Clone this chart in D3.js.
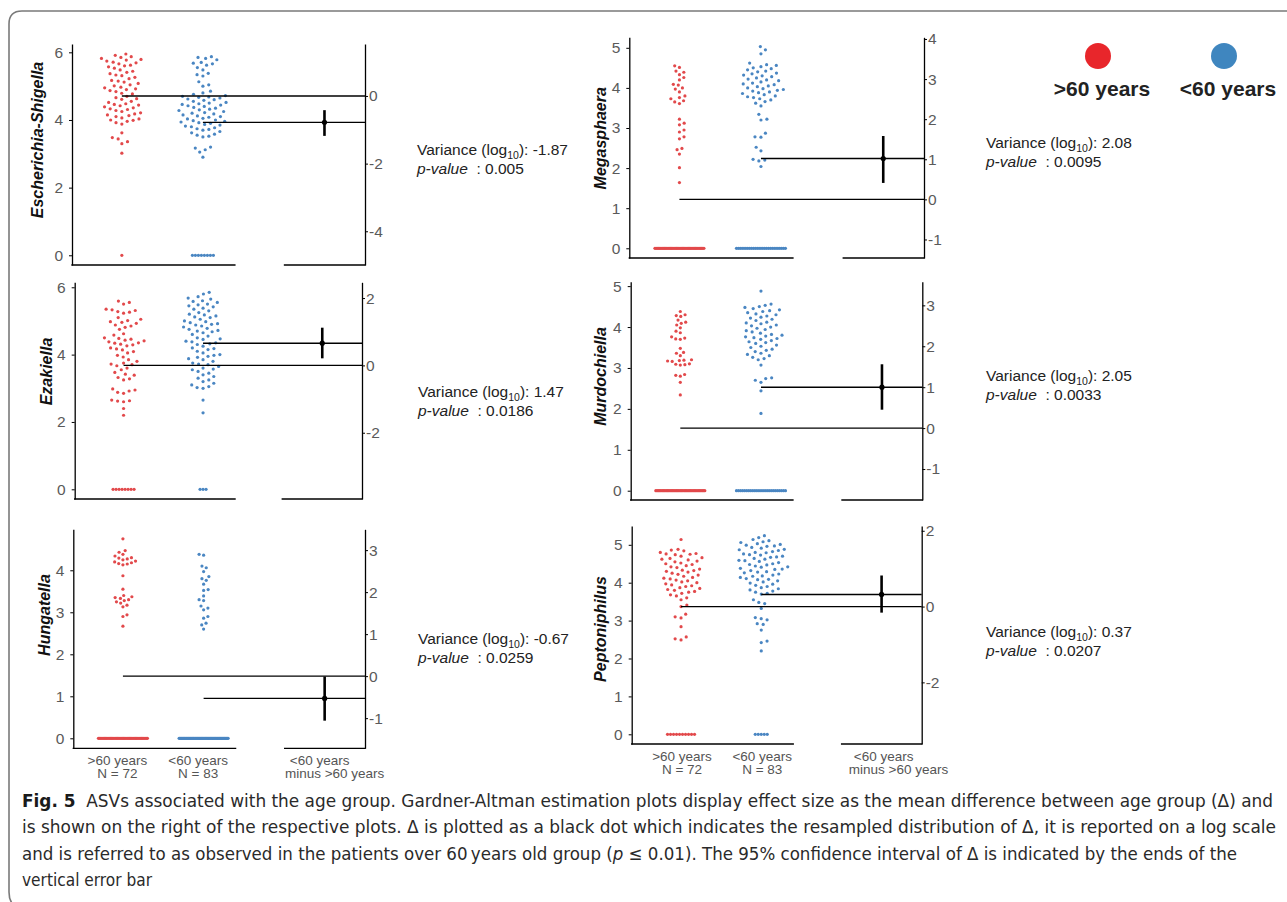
<!DOCTYPE html>
<html><head><meta charset="utf-8">
<script src="https://cdn.jsdelivr.net/npm/d3@7"></script>
<style>body{margin:0;background:#fff} svg{display:block}</style>
</head><body><svg id="chart" width="1287" height="902"></svg>
<script>
// ---------------- DATA ----------------
const groups = [">60 years", "<60 years"];
const groupN = [72, 83];
const contrastLabel = ["<60 years", "minus >60 years"];
const taxa = ["Escherichia-Shigella", "Ezakiella", "Hungatella", "Megasphaera", "Murdochiella", "Peptoniphilus"];

// non-zero log10 abundances read from the swarms (zeros fill the rest of N)
const olderNonZero = [
  [5.95,5.91,5.87,5.85,5.82,5.79,5.77,5.71,5.69,5.66,5.62,5.57,5.53,5.44,5.41,5.37,5.33,5.31,5.26,5.22,5.17,5.15,5.08,5.04,5.01,4.97,4.92,4.90,4.84,4.79,4.77,4.70,4.66,4.61,4.55,4.52,4.46,4.44,4.39,4.36,4.33,4.28,4.25,4.21,4.18,4.13,4.10,4.06,4.03,3.99,3.96,3.92,3.88,4.63,4.48,4.31,5.12,5.48,5.60,5.74,4.87,4.95,4.42,4.15,4.00,3.62,3.48,3.44,3.36,3.30,3.02],
  [5.59,5.55,5.50,5.35,5.33,5.31,5.28,5.26,5.23,5.10,5.05,5.01,4.98,4.96,4.93,4.88,4.85,4.81,4.75,4.62,4.58,4.50,4.48,4.46,4.43,4.41,4.38,4.35,4.34,4.31,4.29,4.26,4.20,4.17,4.14,4.09,4.05,3.98,3.93,3.85,3.80,3.75,3.72,3.70,3.67,3.60,3.55,3.47,3.42,3.39,3.32,3.28,3.25,2.98,2.95,2.92,2.88,2.85,2.65,2.63,2.62,2.60,2.40,2.20],
  [4.75,4.47,4.43,4.38,4.34,4.30,4.29,4.27,4.25,4.22,4.20,4.18,4.16,4.15,4.13,3.87,3.55,3.40,3.37,3.35,3.33,3.30,3.28,3.25,3.22,3.17,3.13,2.94,2.90,2.67],
  [4.55,4.51,4.42,4.39,4.33,4.26,4.20,4.09,4.07,4.00,3.97,3.90,3.80,3.76,3.73,3.68,3.65,3.61,3.22,3.12,3.08,2.95,2.90,2.78,2.73,2.49,2.46,2.35,2.01,1.64],
  [4.38,4.30,4.28,4.26,4.17,4.12,4.09,4.05,3.98,3.90,3.86,3.76,3.73,3.71,3.70,3.48,3.38,3.36,3.30,3.20,3.19,3.18,3.17,3.16,3.10,3.09,3.08,3.07,2.84,2.82,2.80,2.65,2.34],
  [5.14,4.88,4.86,4.84,4.80,4.77,4.76,4.75,4.74,4.70,4.66,4.64,4.62,4.60,4.57,4.55,4.52,4.50,4.48,4.45,4.42,4.40,4.36,4.33,4.32,4.30,4.28,4.25,4.22,4.20,4.17,4.14,4.12,4.10,4.07,4.05,4.02,4.00,3.97,3.94,3.92,3.90,3.87,3.85,3.82,3.80,3.77,3.75,3.72,3.68,3.65,3.60,3.55,3.41,3.37,3.17,3.10,3.07,2.84,2.57,2.52,2.49]
];
const youngerNonZero = [
  [5.87,5.85,5.82,5.78,5.70,5.68,5.66,5.62,5.55,5.48,5.38,5.34,5.30,5.13,5.04,5.00,4.85,4.80,4.76,4.72,4.70,4.68,4.67,4.65,4.62,4.60,4.58,4.55,4.52,4.50,4.48,4.46,4.44,4.42,4.40,4.37,4.35,4.32,4.30,4.28,4.25,4.22,4.20,4.18,4.15,4.12,4.10,4.08,4.05,4.03,4.00,3.98,3.96,3.94,3.92,3.90,3.87,3.85,3.82,3.80,3.77,3.74,3.72,3.70,3.66,3.62,3.58,3.55,3.52,3.50,3.20,3.17,3.12,3.05,2.90],
  [5.85,5.80,5.72,5.68,5.65,5.60,5.58,5.55,5.50,5.48,5.45,5.42,5.38,5.35,5.30,5.25,5.20,5.18,5.15,5.12,5.10,5.05,5.00,4.98,4.95,4.92,4.90,4.88,4.85,4.82,4.78,4.75,4.72,4.70,4.68,4.65,4.60,4.55,4.50,4.47,4.45,4.40,4.38,4.35,4.32,4.30,4.25,4.20,4.18,4.15,4.10,4.05,4.00,3.98,3.95,3.92,3.88,3.85,3.80,3.75,3.72,3.70,3.65,3.60,3.57,3.55,3.50,3.45,3.40,3.35,3.30,3.25,3.20,3.15,3.10,3.05,3.02,3.00,2.65,2.27],
  [4.38,4.36,4.10,4.06,3.97,3.85,3.80,3.76,3.67,3.54,3.52,3.39,3.30,3.28,3.15,3.10,3.06,2.90,2.86,2.74,2.70,2.60],
  [5.03,4.95,4.85,4.62,4.58,4.56,4.53,4.50,4.48,4.45,4.42,4.40,4.37,4.35,4.32,4.30,4.28,4.25,4.22,4.20,4.18,4.15,4.12,4.10,4.08,4.05,4.03,4.00,3.98,3.96,3.94,3.92,3.90,3.88,3.86,3.83,3.80,3.78,3.76,3.73,3.70,3.66,3.62,3.55,3.34,3.22,3.20,2.87,2.78,2.77,2.52,2.43,2.22,2.20,2.18,2.04],
  [4.88,4.56,4.53,4.50,4.48,4.45,4.42,4.40,4.38,4.35,4.32,4.30,4.27,4.24,4.22,4.19,4.16,4.12,4.10,4.08,4.05,4.03,4.00,3.97,3.94,3.91,3.88,3.85,3.82,3.80,3.78,3.76,3.74,3.72,3.70,3.67,3.64,3.62,3.60,3.56,3.53,3.50,3.46,3.43,3.40,3.36,3.33,3.30,3.26,3.23,3.20,3.07,2.76,2.74,2.70,2.65,2.44,1.89],
  [5.24,5.19,5.14,5.11,5.08,5.06,5.03,5.01,4.99,4.97,4.96,4.93,4.91,4.88,4.87,4.85,4.82,4.80,4.79,4.76,4.74,4.73,4.70,4.68,4.67,4.64,4.62,4.59,4.58,4.56,4.53,4.50,4.48,4.47,4.44,4.42,4.41,4.38,4.36,4.35,4.32,4.29,4.28,4.26,4.23,4.20,4.18,4.17,4.14,4.11,4.09,4.08,4.05,4.02,3.99,3.96,3.93,3.90,3.87,3.84,3.81,3.78,3.75,3.72,3.70,3.55,3.48,3.45,3.32,3.08,3.05,3.02,2.92,2.90,2.75,2.46,2.42,2.20]
];
const olderMeans   = [4.71, 3.68, 1.48, 1.22, 1.53, 3.37];
const youngerMeans = [3.93, 4.34, 0.95, 2.24, 2.53, 3.69];
const ciLow  = [-1.18, 0.21, -1.06, 0.41, 0.45, -0.16];
const ciHigh = [-0.42, 1.12, -0.01, 1.58, 1.56, 0.82];
const varianceLabels = ["-1.87", "1.47", "-0.67", "2.08", "2.05", "0.37"];
const pValueLabels = ["0.005", "0.0186", "0.0259", "0.0095", "0.0033", "0.0207"];
const leftTicks  = [[0,2,4,6],[0,2,4,6],[0,1,2,3,4],[0,1,2,3,4,5],[0,1,2,3,4,5],[0,1,2,3,4,5]];
const rightTicks = [[-4,-2,0],[-2,0,2],[-1,0,1,2,3],[-1,0,1,2,3,4],[-1,0,1,2,3],[-2,0,2]];
const yDomains = [[-0.287,6.246],[-0.288,6.148],[-0.238,4.976],[-0.242,5.262],[-0.227,5.108],[-0.256,5.496]];
const legendLabels = [">60 years", "<60 years"];
const captionLines = [
  "ASVs associated with the age group. Gardner-Altman estimation plots display effect size as the mean difference between age group (\u0394) and",
  "is shown on the right of the respective plots. \u0394 is plotted as a black dot which indicates the resampled distribution of \u0394, it is reported on a log scale",
  ["and is referred to as observed in the patients over 60\u2009years old group (", "p", " \u2264 0.01). The 95% confidence interval of \u0394 is indicated by the ends of the"],
  "vertical error bar"
];

// ---------------- LAYOUT ----------------
const layout = [
  {L:72,   R:365,   top:44,    bottom:265,   labX:43,  labY:140,   txtX:417, txtY:155, dot:[6,6]},
  {L:74.7, R:362,   top:282.3, bottom:499,   labX:52,  labY:371.5, txtX:418, txtY:397, dot:[6,6]},
  {L:73.3, R:365,   top:529.3, bottom:748.3, labX:50,  labY:615,   txtX:418, txtY:644, dot:[4.4,4.6], xlab:true, gShift:-5.5, cShift:-5},
  {L:629.3,R:924,   top:37.3,  bottom:258,   labX:606, labY:138.3, txtX:986, txtY:148, dot:[5,6]},
  {L:630.7,R:922.3, top:281.7, bottom:500,   labX:606, labY:376.5, txtX:986, txtY:381, dot:[4.6,6]},
  {L:631.7,R:921.7, top:526,   bottom:744,   labX:606, labY:629,   txtX:986, txtY:637, dot:[6,6], xlab:true, gShift:1, cShift:2}
];
const colors = ["#e2494b", "#4a86c2"];
const legendColors = ["#e8262b", "#3f86bf"];
const FONT = "'Liberation Sans', Arial, Helvetica, sans-serif";

const svg = d3.select("#chart");

// frame
svg.append("path")
  .attr("d", "M1287,11 H22 Q9,11 9,24 V892 Q9,902 15,906")
  .attr("fill", "none").attr("stroke", "#7a7a7a").attr("stroke-width", 1.6);

function swarm(vals, y, d) {
  const sorted = vals.slice().sort((a, b) => a - b);
  const placed = [];
  sorted.forEach((v, i) => {
    const py = y(v);
    const near = placed.filter(p => Math.abs(p.y - py) < d);
    const cands = [0];
    near.forEach(p => {
      const dx = Math.sqrt(d * d - (p.y - py) ** 2);
      cands.push(p.x + dx, p.x - dx);
    });
    cands.sort((a, b) => (Math.abs(a) - Math.abs(b)) || ((i % 2) ? a - b : b - a));
    const cx = cands.find(c => near.every(p => (p.x - c) ** 2 + (p.y - py) ** 2 >= d * d - 0.01));
    placed.push({x: cx, y: py, v});
  });
  return placed;
}
function zeroRow(n, y) {
  const s = n > 1 ? Math.min(3, 49 / (n - 1)) : 0;
  return d3.range(n).map(i => ({x: (i - (n - 1) / 2) * s, y: y(0), v: 0}));
}

taxa.forEach((taxon, k) => {
  const lay = layout[k];
  const g = svg.append("g");
  const x = d3.scaleLinear().domain([-0.615, 3.0]).range([lay.L, lay.R]);
  const y = d3.scaleLinear().domain(yDomains[k]).range([lay.bottom, lay.top]);
  const yR = d3.scaleLinear().domain([yDomains[k][0] - olderMeans[k], yDomains[k][1] - olderMeans[k]]).range([lay.bottom, lay.top]);

  // axes
  const la = g.append("g").attr("transform", `translate(${lay.L},0)`)
    .call(d3.axisLeft(y).tickValues(leftTicks[k]).tickSize(3).tickPadding(6).tickSizeOuter(0).tickFormat(d => String(d)));
  const ra = g.append("g").attr("transform", `translate(${lay.R},0)`)
    .call(d3.axisRight(yR).tickValues(rightTicks[k]).tickSize(3).tickPadding(1).tickSizeOuter(0).tickFormat(d => String(d)));
  [la, ra].forEach(a => {
    a.attr("font-family", FONT).attr("font-size", 15.5);
    a.select(".domain").attr("stroke", "#000").attr("stroke-width", 1.3);
    a.selectAll(".tick line").attr("stroke", "#000").attr("stroke-width", 1);
    a.selectAll(".tick text").attr("fill", "#5a5a5a");
  });
  // bottom axis segments
  [[lay.L, x(1) + 32], [x(2.5) - 40, lay.R]].forEach(s => {
    g.append("line").attr("x1", s[0] - 0.65).attr("x2", s[1] + 0.65)
      .attr("y1", lay.bottom).attr("y2", lay.bottom)
      .attr("stroke", "#000").attr("stroke-width", 1.3);
  });

  // swarms
  [olderNonZero[k], youngerNonZero[k]].forEach((nz, gi) => {
    const nZero = groupN[gi] - nz.length;
    const pts = swarm(nz, y, lay.dot[gi]).concat(zeroRow(nZero, y));
    g.append("g").selectAll("circle").data(pts).join("circle")
      .attr("cx", d => x(gi) + d.x).attr("cy", d => d.y).attr("r", 1.6)
      .attr("fill", colors[gi]);
  });

  // mean lines
  [olderMeans[k], youngerMeans[k]].forEach((m, gi) => {
    g.append("line").attr("x1", x(gi)).attr("x2", lay.R)
      .attr("y1", y(m)).attr("y2", y(m)).attr("stroke", "#000").attr("stroke-width", 1.4);
  });
  // delta + CI
  const delta = youngerMeans[k] - olderMeans[k];
  g.append("line").attr("x1", x(2.5)).attr("x2", x(2.5))
    .attr("y1", yR(ciLow[k])).attr("y2", yR(ciHigh[k]))
    .attr("stroke", "#000").attr("stroke-width", 2.6);
  g.append("circle").attr("cx", x(2.5)).attr("cy", yR(delta)).attr("r", 2.6).attr("fill", "#000");

  // y label
  g.append("text").attr("transform", `translate(${lay.labX},${lay.labY}) rotate(-90)`)
    .attr("text-anchor", "middle").attr("font-family", FONT).attr("font-size", 16)
    .attr("font-weight", "bold").attr("font-style", "italic").attr("fill", "#111").text(taxon);

  // stats text
  const t1 = g.append("text").attr("x", lay.txtX).attr("y", lay.txtY)
    .attr("font-family", FONT).attr("font-size", 15.5).attr("fill", "#222");
  t1.append("tspan").text("Variance (log");
  t1.append("tspan").attr("font-size", 10.5).attr("dy", 4).text("10");
  t1.append("tspan").attr("dy", -4).text("): " + varianceLabels[k]);
  const t2 = g.append("text").attr("x", lay.txtX).attr("y", lay.txtY + 19)
    .attr("font-family", FONT).attr("font-size", 15.5).attr("fill", "#222");
  t2.append("tspan").attr("font-style", "italic").text("p-value");
  t2.append("tspan").text("\u00a0\u00a0: " + pValueLabels[k]);

  // x labels
  if (lay.xlab) {
    const lt = g.append("g").attr("font-family", FONT).attr("font-size", 13.5).attr("fill", "#555").attr("text-anchor", "middle");
    groups.forEach((gr, gi) => {
      lt.append("text").attr("x", x(gi) + lay.gShift).attr("y", lay.bottom + 17).text(gr);
      lt.append("text").attr("x", x(gi) + lay.gShift).attr("y", lay.bottom + 30).text("N = " + groupN[gi]);
    });
    lt.append("text").attr("x", x(2.5) + lay.cShift).attr("y", lay.bottom + 17).text(contrastLabel[0]);
    lt.append("text").attr("x", x(2.5) + lay.cShift + 15).attr("y", lay.bottom + 30).text(contrastLabel[1]);
  }
});

// legend
const legX = d3.scalePoint().domain(legendLabels).range([1098, 1224]);
legendLabels.forEach((l, i) => {
  svg.append("circle").attr("cx", legX(l)).attr("cy", 56).attr("r", 13).attr("fill", legendColors[i]);
  svg.append("text").attr("x", legX(l) + 4).attr("y", 96).attr("text-anchor", "middle")
    .attr("font-family", FONT).attr("font-size", 21).attr("font-weight", "bold").attr("fill", "#222").text(l);
});

// caption
const CAP = "'Liberation Sans Narrow', 'DejaVu Sans Condensed', 'Open Sans', sans-serif";
const capW = [1251, 1254, 1215, 130];
captionLines.forEach((line, i) => {
  const t = svg.append("text").attr("x", 22).attr("y", 807 + i * 26.4)
    .attr("font-family", CAP).attr("font-size", 18).attr("fill", "#2a2a2a")
    .attr("textLength", capW[i]).attr("lengthAdjust", "spacingAndGlyphs");
  if (i === 0) {
    t.append("tspan").attr("font-weight", "bold").attr("fill", "#1a1a1a").text("Fig. 5");
    t.append("tspan").text("\u00a0\u00a0" + line);
  } else if (Array.isArray(line)) {
    t.append("tspan").text(line[0]);
    t.append("tspan").attr("font-style", "italic").text(line[1]);
    t.append("tspan").text(line[2]);
  } else {
    t.text(line);
  }
});
</script></body></html>
